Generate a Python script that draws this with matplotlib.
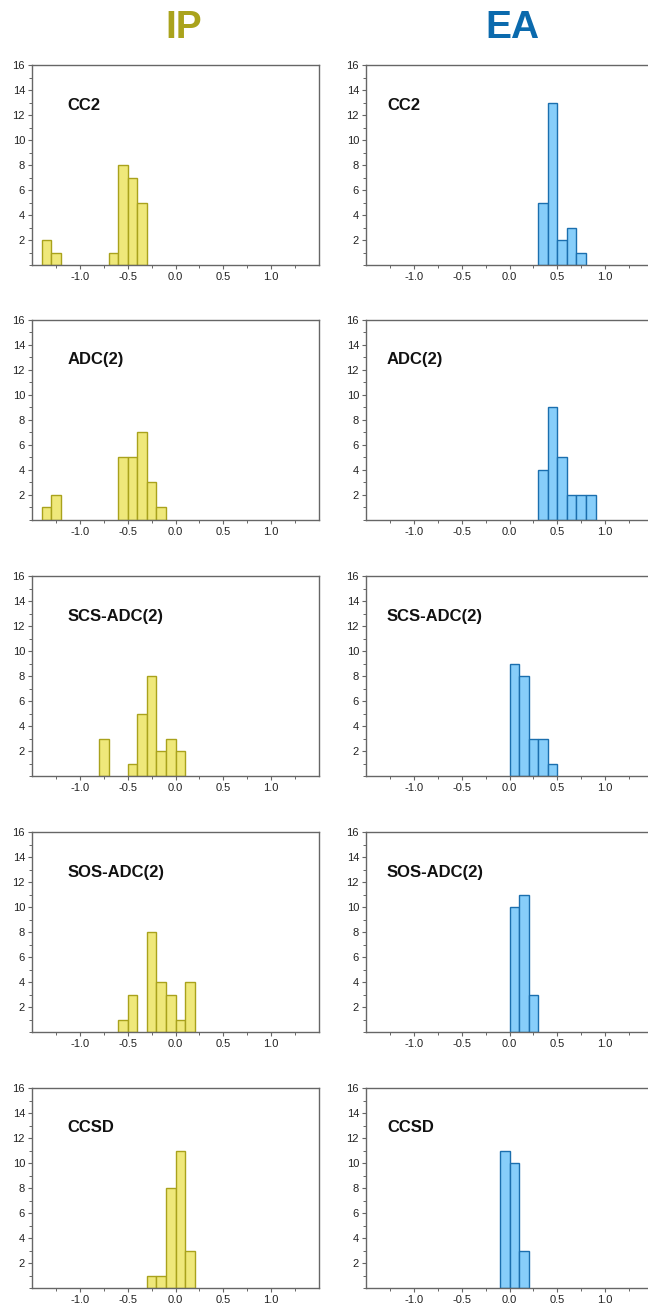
import numpy as np
import matplotlib
matplotlib.use('Agg')
import matplotlib.pyplot as plt
from matplotlib.ticker import MultipleLocator, FixedLocator

plt.rcParams['font.family'] = ['Liberation Sans', 'DejaVu Sans']
plt.rcParams['axes.unicode_minus'] = False

# nama metode (baris)
methods = ['CC2', 'ADC(2)', 'SCS-ADC(2)', 'SOS-ADC(2)', 'CCSD']

# tepi kiri bin (lebar 0.1) dan jumlah, kolom IP
cc2_ip_bins = [-1.4, -1.3, -0.7, -0.6, -0.5, -0.4]
cc2_ip_counts = [2, 1, 1, 8, 7, 5]
adc2_ip_bins = [-1.4, -1.3, -0.6, -0.5, -0.4, -0.3, -0.2]
adc2_ip_counts = [1, 2, 5, 5, 7, 3, 1]
scs_ip_bins = [-0.8, -0.5, -0.4, -0.3, -0.2, -0.1, 0.0]
scs_ip_counts = [3, 1, 5, 8, 2, 3, 2]
sos_ip_bins = [-0.6, -0.5, -0.3, -0.2, -0.1, 0.0, 0.1]
sos_ip_counts = [1, 3, 8, 4, 3, 1, 4]
ccsd_ip_bins = [-0.3, -0.2, -0.1, 0.0, 0.1]
ccsd_ip_counts = [1, 1, 8, 11, 3]

# kolom EA
cc2_ea_bins = [0.3, 0.4, 0.5, 0.6, 0.7]
cc2_ea_counts = [5, 13, 2, 3, 1]
adc2_ea_bins = [0.3, 0.4, 0.5, 0.6, 0.7, 0.8]
adc2_ea_counts = [4, 9, 5, 2, 2, 2]
scs_ea_bins = [0.0, 0.1, 0.2, 0.3, 0.4]
scs_ea_counts = [9, 8, 3, 3, 1]
sos_ea_bins = [0.0, 0.1, 0.2]
sos_ea_counts = [10, 11, 3]
ccsd_ea_bins = [-0.1, 0.0, 0.1]
ccsd_ea_counts = [11, 10, 3]

ip_data = [(cc2_ip_bins, cc2_ip_counts), (adc2_ip_bins, adc2_ip_counts),
           (scs_ip_bins, scs_ip_counts), (sos_ip_bins, sos_ip_counts),
           (ccsd_ip_bins, ccsd_ip_counts)]
ea_data = [(cc2_ea_bins, cc2_ea_counts), (adc2_ea_bins, adc2_ea_counts),
           (scs_ea_bins, scs_ea_counts), (sos_ea_bins, sos_ea_counts),
           (ccsd_ea_bins, ccsd_ea_counts)]

W, H = 648, 1304
fig = plt.figure(figsize=(W / 100, H / 100), dpi=100)

ip_face, ip_edge = '#efe87a', '#a9a21c'
ea_face, ea_edge = '#87cefa', '#1b6fae'
spine_col = '#666666'

tops = [65, 320, 576, 832, 1088]
ax_h = 200
ax_w = 287
lefts = [32, 366]
label_x = [0.125, 0.073]


def style_ax(ax):
    ax.set_xlim(-1.5, 1.5)
    ax.set_ylim(0, 16)
    ax.xaxis.set_major_locator(FixedLocator([-1.0, -0.5, 0.0, 0.5, 1.0]))
    ax.xaxis.set_minor_locator(FixedLocator([-1.25, -0.75, -0.25, 0.25, 0.75, 1.25]))
    ax.yaxis.set_major_locator(FixedLocator([2, 4, 6, 8, 10, 12, 14, 16]))
    ax.yaxis.set_minor_locator(MultipleLocator(1))
    ax.xaxis.set_major_formatter(plt.FuncFormatter(lambda v, p: '{:.1f}'.format(v)))
    ax.tick_params(axis='both', which='major', direction='out', length=3, width=0.8,
                   color=spine_col, labelsize=8, pad=2, labelcolor='#222222')
    ax.tick_params(axis='both', which='minor', direction='out', length=2, width=0.7,
                   color=spine_col)
    ax.tick_params(top=False, right=False)
    for s in ax.spines.values():
        s.set_color(spine_col)
        s.set_linewidth(1.0)


for r in range(5):
    for c, (data, face, edge) in enumerate([(ip_data, ip_face, ip_edge),
                                            (ea_data, ea_face, ea_edge)]):
        ax = fig.add_axes([lefts[c] / W, 1 - (tops[r] + ax_h) / H, ax_w / W, ax_h / H])
        bins, counts = data[r]
        ax.bar(bins, counts, width=0.1, align='edge', color=face, edgecolor=edge,
               linewidth=1.0)
        style_ax(ax)
        ax.text(label_x[c], 0.80, methods[r], transform=ax.transAxes, fontsize=12,
                fontweight='bold', va='center', ha='left', color='#111111')

# judul kolom
fig.text(184 / W, 1 - 28 / H, 'IP', fontsize=28, fontweight='bold', color='#aaa31c',
         ha='center', va='center')
fig.text(512 / W, 1 - 28 / H, 'EA', fontsize=28, fontweight='bold', color='#0b6aad',
         ha='center', va='center')

fig.savefig('out.png', dpi=100)
